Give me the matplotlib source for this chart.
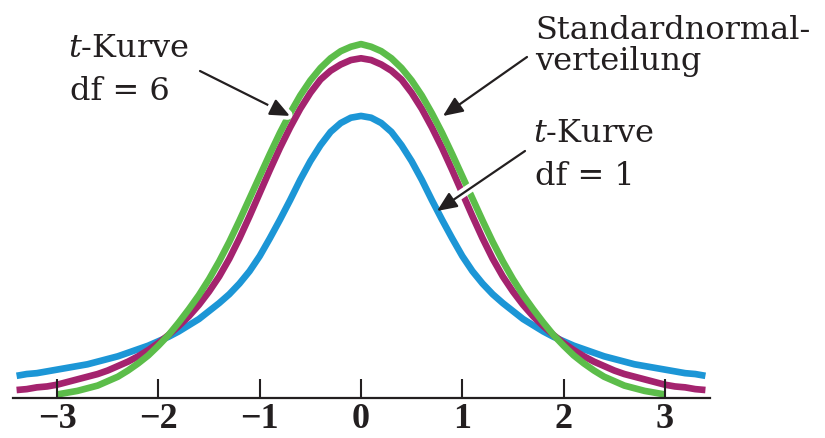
import matplotlib
matplotlib.use("Agg")
import matplotlib.pyplot as plt
import matplotlib.patheffects as pe

# Density values (x in standard units)
X_T = [-3.4, -3.3, -3.2, -3.1, -3.0, -2.9, -2.8, -2.7, -2.6, -2.5,
       -2.4, -2.3, -2.2, -2.1, -2.0, -1.9, -1.8, -1.7, -1.6, -1.5,
       -1.4, -1.3, -1.2, -1.1, -1.0, -0.9, -0.8, -0.7, -0.6, -0.5,
       -0.4, -0.3, -0.2, -0.1, 0.0, 0.1, 0.2, 0.3, 0.4, 0.5,
       0.6, 0.7, 0.8, 0.9, 1.0, 1.1, 1.2, 1.3, 1.4, 1.5,
       1.6, 1.7, 1.8, 1.9, 2.0, 2.1, 2.2, 2.3, 2.4, 2.5,
       2.6, 2.7, 2.8, 2.9, 3.0, 3.1, 3.2, 3.3, 3.4]
X_NORMAL = X_T[4:-4]  # green curve stops at -3 / 3

T1_DENSITY = [0.025, 0.027, 0.028, 0.030, 0.032, 0.034, 0.036, 0.038, 0.041, 0.044,
              0.047, 0.051, 0.055, 0.059, 0.064, 0.069, 0.075, 0.082, 0.089, 0.098,
              0.107, 0.117, 0.129, 0.143, 0.160, 0.180, 0.201, 0.223, 0.246, 0.267,
              0.285, 0.300, 0.310, 0.316, 0.318, 0.316, 0.310, 0.300, 0.285, 0.267,
              0.246, 0.223, 0.201, 0.180, 0.160, 0.143, 0.129, 0.117, 0.107, 0.098,
              0.089, 0.082, 0.075, 0.069, 0.064, 0.059, 0.055, 0.051, 0.047, 0.044,
              0.041, 0.038, 0.036, 0.034, 0.032, 0.030, 0.028, 0.027, 0.025]

T6_DENSITY = [0.009, 0.010, 0.012, 0.013, 0.015, 0.018, 0.021, 0.024, 0.027, 0.031,
              0.036, 0.041, 0.047, 0.054, 0.062, 0.071, 0.081, 0.092, 0.105, 0.120,
              0.137, 0.157, 0.180, 0.205, 0.231, 0.257, 0.282, 0.305, 0.326, 0.344,
              0.359, 0.369, 0.376, 0.381, 0.383, 0.381, 0.376, 0.369, 0.359, 0.344,
              0.326, 0.305, 0.282, 0.257, 0.231, 0.205, 0.180, 0.157, 0.137, 0.120,
              0.105, 0.092, 0.081, 0.071, 0.062, 0.054, 0.047, 0.041, 0.036, 0.031,
              0.027, 0.024, 0.021, 0.018, 0.015, 0.013, 0.012, 0.010, 0.009]

NORMAL_DENSITY = [0.004, 0.006, 0.008, 0.011, 0.014, 0.019, 0.024, 0.031, 0.039, 0.048,
                  0.059, 0.071, 0.085, 0.100, 0.116, 0.134, 0.154, 0.176, 0.200, 0.225,
                  0.250, 0.275, 0.299, 0.321, 0.341, 0.358, 0.372, 0.383, 0.391, 0.396,
                  0.399, 0.396, 0.391, 0.383, 0.372, 0.358, 0.341, 0.321, 0.299, 0.275,
                  0.250, 0.225, 0.200, 0.176, 0.154, 0.134, 0.116, 0.100, 0.085, 0.071,
                  0.059, 0.048, 0.039, 0.031, 0.024, 0.019, 0.014, 0.011, 0.008, 0.006,
                  0.004]

TICKS = [-3, -2, -1, 0, 1, 2, 3]

GREEN = "#5cbd4a"
MAGENTA = "#a4236e"
BLUE = "#1c96d6"
INK = "#231f20"

# figure geometry in pixels (axis origin and scale)
W, H = 825, 439
X0_PX, X_SCALE = 361, 101.3
Y0_PX, Y_SCALE = 399, 887


def px(x, y):
    """Pixel position in the picture -> data coordinates."""
    return (x - X0_PX) / X_SCALE, (Y0_PX - y) / Y_SCALE


def label(fig, x, y, s, size=23):
    fig.text(x / W, 1 - y / H, s, fontsize=size, family="DejaVu Serif",
             color=INK, ha="left", va="baseline")


def main():
    plt.rcParams["mathtext.fontset"] = "dejavuserif"

    fig = plt.figure(figsize=(W / 100, H / 100), dpi=100)
    ax = fig.add_axes([0, 0, 1, 1])
    ax.set_xlim(-X0_PX / X_SCALE, (W - X0_PX) / X_SCALE)
    ax.set_ylim(-(H - Y0_PX) / Y_SCALE, Y0_PX / Y_SCALE)

    lw = 4.8
    ax.plot(X_T, T1_DENSITY, color=BLUE, lw=lw, solid_capstyle="butt", zorder=2)
    ax.plot(X_T, T6_DENSITY, color=MAGENTA, lw=lw, solid_capstyle="butt", zorder=3)
    ax.plot(X_NORMAL, NORMAL_DENSITY, color=GREEN, lw=lw, solid_capstyle="butt", zorder=4)

    # axis line with upward ticks
    for side in ("top", "right", "left"):
        ax.spines[side].set_visible(False)
    ax.spines["bottom"].set_position(("data", 0))
    ax.spines["bottom"].set_bounds(-3.44, 3.45)
    ax.spines["bottom"].set_linewidth(1.6)
    ax.spines["bottom"].set_color(INK)
    ax.spines["bottom"].set_zorder(5)
    ax.xaxis.set_zorder(5)
    ax.set_yticks([])
    ax.set_xticks(TICKS)
    ax.set_xticklabels([str(t).replace("-", "\u2212") for t in TICKS],
                       fontfamily="Liberation Serif", fontweight="bold",
                       fontsize=26, color=INK)
    ax.tick_params(axis="x", direction="in", length=13.5, width=1.5,
                   color=INK, pad=3)

    arrow = dict(arrowstyle="-|>,head_length=0.6,head_width=0.26",
                 mutation_scale=20, lw=1.6, color=INK, shrinkA=0, shrinkB=0)

    # t-Kurve df = 6 (white halo cuts the green curve)
    ax.annotate("", xy=px(290, 117), xytext=px(200, 72),
                arrowprops=dict(arrow, path_effects=[
                    pe.Stroke(linewidth=7, foreground="white"), pe.Normal()]),
                zorder=6)
    # Standardnormalverteilung
    ax.annotate("", xy=px(443, 117), xytext=px(527, 58),
                arrowprops=arrow, zorder=6)
    # t-Kurve df = 1 (shaft cuts magenta and green)
    (xa, ya), (xb, yb) = px(522, 154), px(451, 202)
    ax.plot([xa, xb], [ya, yb], color="white", lw=6.5, solid_capstyle="butt", zorder=5.5)
    ax.annotate("", xy=px(437, 212), xytext=px(525, 152),
                arrowprops=arrow, zorder=6)

    label(fig, 68, 57, r"$t$-Kurve")
    label(fig, 70, 100, "df = 6")
    label(fig, 535, 39, "Standardnormal-")
    label(fig, 535, 70, "verteilung")
    label(fig, 533, 142, r"$t$-Kurve")
    label(fig, 535, 185, "df = 1")

    fig.savefig("out.png", dpi=100)


if __name__ == "__main__":
    main()
